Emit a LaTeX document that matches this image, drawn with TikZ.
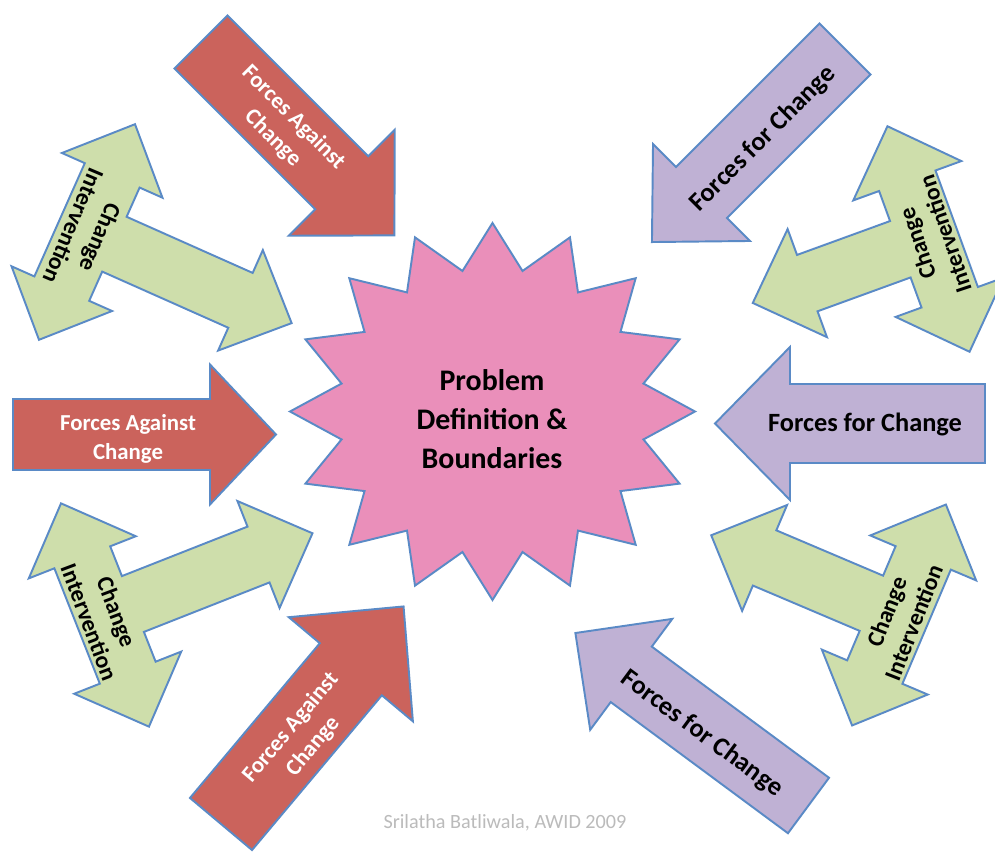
\documentclass[tikz,border=0pt]{standalone}
\usepackage{fontspec}
\setmainfont{Carlito}

\definecolor{edgeblue}{HTML}{5A8AC6}
\definecolor{againstred}{HTML}{CB635C}
\definecolor{forlilac}{HTML}{BFB1D4}
\definecolor{intgreen}{HTML}{CEDEAB}
\definecolor{starpink}{HTML}{EA8FBA}
\definecolor{creditgrey}{HTML}{BBBBBB}

% straight block arrow: tail centre x, y, direction, length,
% shaft width, head width, head length, style
\newcommand\blockarrow[8]{%
  \begin{scope}[shift={(#1,#2)},rotate=#3]
    \draw[#8] (0,-#5/2) -- ({#4-#7},-#5/2) -- ({#4-#7},-#6/2) -- (#4,0)
      -- ({#4-#7},#6/2) -- ({#4-#7},#5/2) -- (0,#5/2) -- cycle;
  \end{scope}}

% T-shaped arrow: a double-headed cross bar with a single-headed stem
% centre x, y, stem direction, shaft width, head width, head length,
% half length of the cross bar, stem length, style
\newcommand\teearrow[9]{%
  \begin{scope}[shift={(#1,#2)},rotate=#3]
    \draw[#9] (0,-#7) -- (#5/2,-#7+#6) -- (#4/2,-#7+#6) -- (#4/2,-#4/2)
      -- (#8-#6,-#4/2) -- (#8-#6,-#5/2) -- (#8,0) -- (#8-#6,#5/2)
      -- (#8-#6,#4/2) -- (#4/2,#4/2) -- (#4/2,#7-#6) -- (#5/2,#7-#6)
      -- (0,#7) -- (-#5/2,#7-#6) -- (-#4/2,#7-#6) -- (-#4/2,-#7+#6)
      -- (-#5/2,-#7+#6) -- cycle;
  \end{scope}}

\begin{document}
\begin{tikzpicture}[x=0.02cm,y=-0.02cm,
  outline/.style={draw=edgeblue,line width=1.1pt,line join=miter},
  against/.style={outline,fill=againstred},
  forchange/.style={outline,fill=forlilac},
  intervene/.style={outline,fill=intgreen},
  lbl/.style={align=center,inner sep=0pt},
  redlbl/.style={lbl,text=white,font=\fontsize{13}{16.6}\selectfont\bfseries},
  lilaclbl/.style={lbl,text=black,font=\fontsize{15}{17}\selectfont\bfseries},
  greenlbl/.style={lbl,text=black,font=\fontsize{13.5}{16.6}\selectfont\bfseries},
  starlbl/.style={lbl,text=black,font=\fontsize{17}{22}\selectfont\bfseries}]

\useasboundingbox (0,0) rectangle (995,852);
\fill[white] (0,0) rectangle (995,852);

% central sixteen-pointed star
\begin{scope}[shift={(492.5,411.5)}]
  \draw[outline,fill=starpink] (0,-188.5)
    \foreach \i in {1,...,31} {
      -- ({202.5*(0.88+0.12*cos(180*\i))*cos(90+11.25*\i)},
          {-188.5*(0.88+0.12*cos(180*\i))*sin(90+11.25*\i)}) } -- cycle;
\end{scope}
\node[starlbl] (problem) at (492,419) {Problem\\Definition \&\\Boundaries};

% forces against change
\blockarrow{201}{42}{-45}{273.5}{75}{150}{74.5}{against}
\blockarrow{13}{434.5}{0}{263}{71}{140}{66}{against}
\blockarrow{221}{824}{50}{284}{81}{162}{82}{against}
\node[redlbl,rotate=-45] (fac-nw) at (283,128) {Forces Against\\Change};
\node[redlbl] (fac-w) at (128,439) {Forces Against\\Change};
\node[redlbl,rotate=50] (fac-s) at (302,737) {Forces Against\\Change};

% forces for change
\blockarrow{845}{49}{-135}{273}{72}{137}{70}{forchange}
\blockarrow{985}{423.5}{180}{270}{79}{153}{75}{forchange}
\blockarrow{808.5}{805.5}{143.5}{290}{69}{138}{69.5}{forchange}
\node[lilaclbl,rotate=45] (ffc-ne) at (763,139) {Forces for Change};
\node[lilaclbl] (ffc-e) at (865,424) {Forces for Change};
\node[lilaclbl,rotate=-36.5] (ffc-se) at (702,734) {Forces for Change};

% change interventions
\teearrow{87}{232}{-24}{60}{110}{56}{118}{224}{intervene}
\teearrow{105}{615}{21.5}{60}{115}{58}{120}{223}{intervene}
\teearrow{928.5}{239}{-160}{60}{115}{58}{120}{187}{intervene}
\teearrow{899}{615}{157}{60}{115}{58}{120}{204}{intervene}
\node[greenlbl,rotate=-113] (ci-nw) at (87,232) {Change\\Intervention};
\node[greenlbl,rotate=-69.4] (ci-sw) at (103,617) {Change\\Intervention};
\node[greenlbl,rotate=108.5] (ci-ne) at (931,239) {Change\\Intervention};
\node[greenlbl,rotate=68.5] (ci-se) at (900,617) {Change\\Intervention};

% credit line
\node[lbl,text=creditgrey,font=\fontsize{11.5}{13}\selectfont] (credit) at (505,823)
  {Srilatha Batliwala, AWID 2009};
\end{tikzpicture}
\end{document}
